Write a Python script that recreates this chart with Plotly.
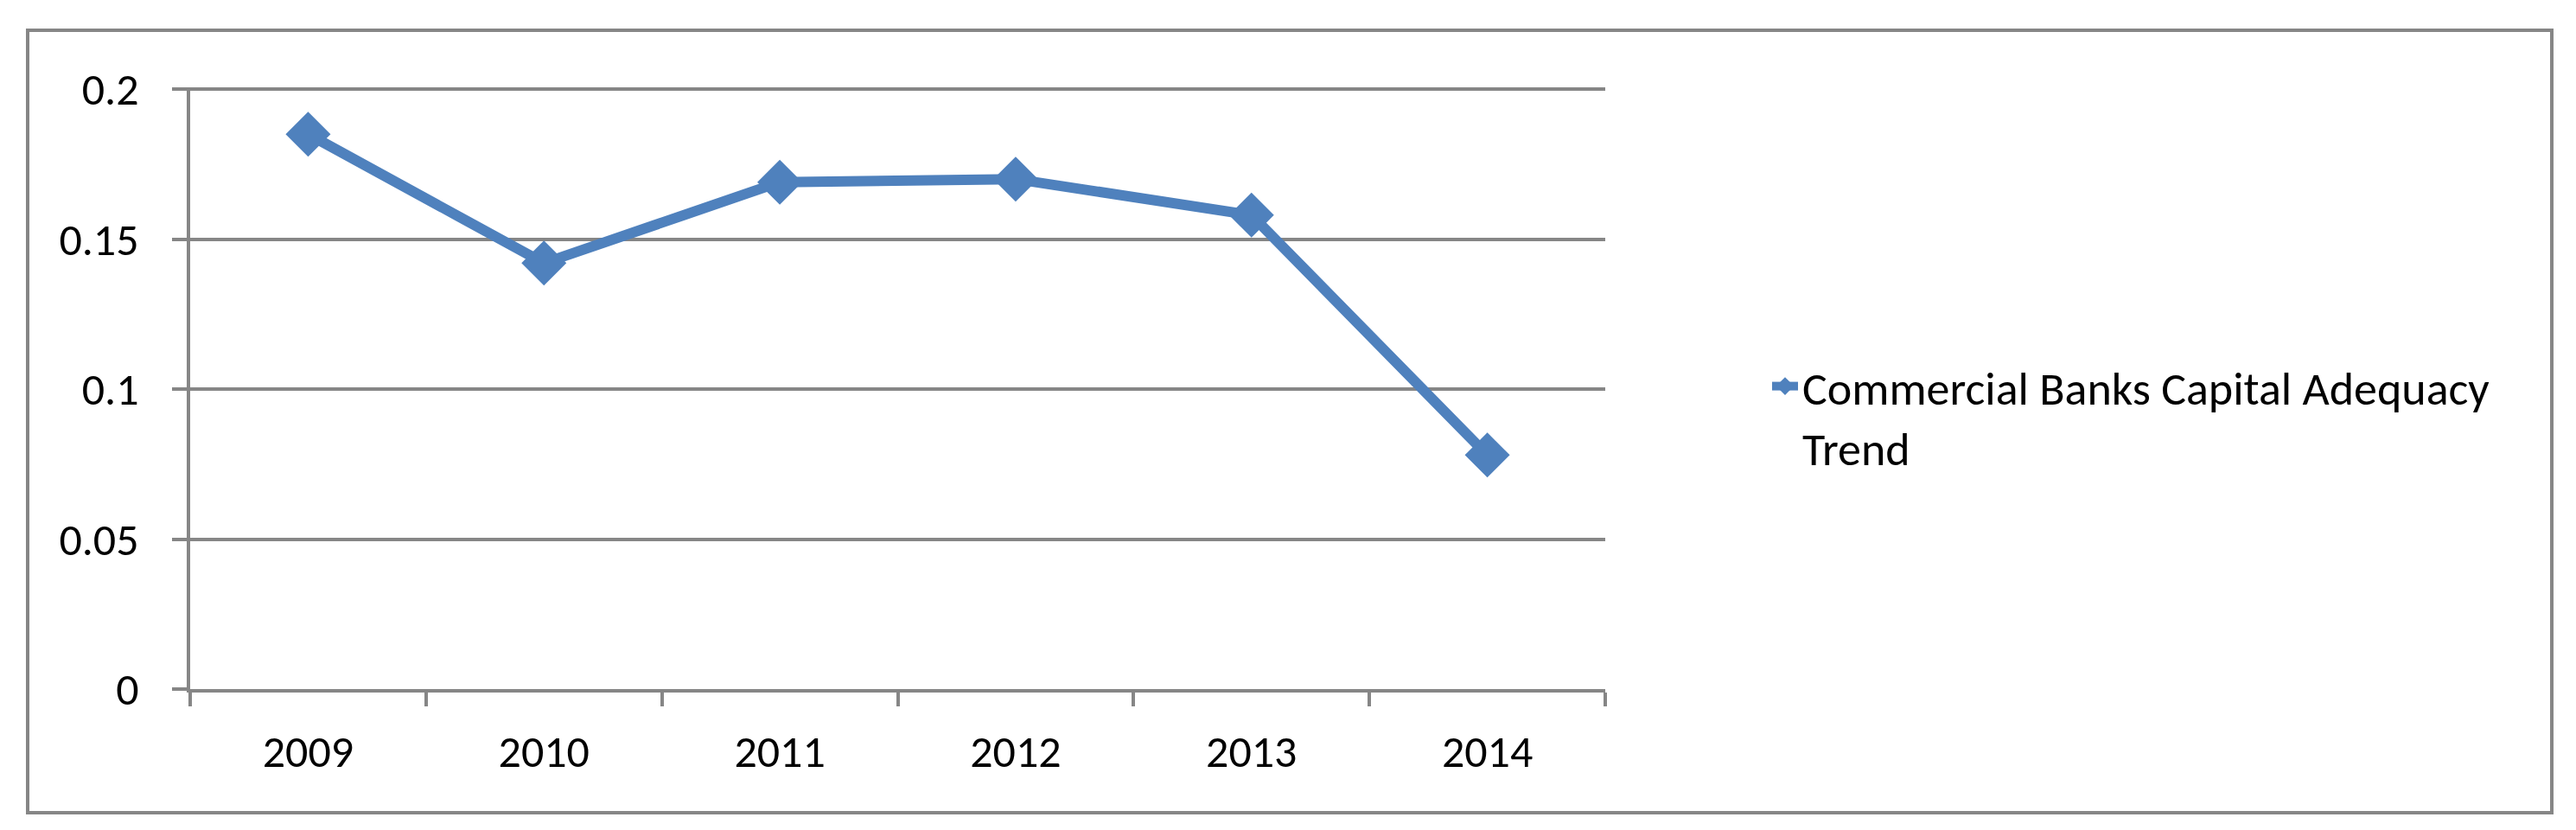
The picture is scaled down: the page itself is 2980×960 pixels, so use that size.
import plotly.graph_objects as go

# ---------------------------------------------------------------------------
# Datos
# ---------------------------------------------------------------------------
years = ["2009", "2010", "2011", "2012", "2013", "2014"]
capital_adequacy = [0.185, 0.142, 0.169, 0.170, 0.158, 0.078]
series_name = "Commercial Banks Capital Adequacy<br>Trend"

BLUE = "#4F81BD"
GRID = "#868686"
FONT = "Carlito, Calibri, 'Liberation Sans Narrow', Lato, sans-serif"

# the page body has an 8px margin, so work in page pixels minus 8
OFF = 8
W, H = 2980 - 2 * OFF, 960 - 2 * OFF
L, R, T, B = 220 - OFF, 1857 - OFF, 101 - OFF, 797 - OFF


def px_to_paper_x(x):
    return (x - OFF - L) / (R - L)


def px_to_paper_y(y):
    return (B - (y - OFF)) / (B - T)


fig = go.Figure()
fig.add_trace(
    go.Scatter(
        x=years,
        y=capital_adequacy,
        mode="lines+markers",
        name=series_name,
        line=dict(color=BLUE, width=12),
        marker=dict(symbol="diamond", size=40, color=BLUE),
    )
)

# marco exterior del gráfico
fig.add_shape(
    type="rect", xref="paper", yref="paper",
    x0=px_to_paper_x(32), x1=px_to_paper_x(2952),
    y0=px_to_paper_y(940), y1=px_to_paper_y(35),
    line=dict(color=GRID, width=4), layer="below",
)

fig.update_xaxes(
    type="category",
    range=[-0.5, 5.5],
    showgrid=False,
    showline=True, linecolor=GRID, linewidth=4,
    ticks="outside", tickson="boundaries", ticklen=16, tickcolor=GRID, tickwidth=4,
    ticklabelstandoff=24,
    tickfont=dict(family=FONT, size=52, color="#000000"),
)
fig.update_yaxes(
    range=[0, 0.2006],
    tickvals=[0, 0.05, 0.1, 0.15, 0.2],
    ticktext=["0", "0.05", "0.1", "0.15", "0.2"],
    showgrid=True, gridcolor=GRID, gridwidth=4,
    zeroline=False,
    showline=True, linecolor=GRID, linewidth=4,
    ticks="outside", ticklen=17, tickcolor=GRID, tickwidth=4,
    ticklabelstandoff=28,
    tickfont=dict(family=FONT, size=52, color="#000000"),
)

fig.update_layout(
    width=W, height=H,
    margin=dict(l=L, r=W - R, t=T, b=H - B),
    paper_bgcolor="white", plot_bgcolor="white",
    showlegend=True,
    legend=dict(
        x=px_to_paper_x(2045), y=px_to_paper_y(405),
        xanchor="left", yanchor="top",
        valign="top",
        font=dict(family=FONT, size=54, color="#000000"),
        bgcolor="rgba(0,0,0,0)",
    ),
)

fig.write_html("out.html")
